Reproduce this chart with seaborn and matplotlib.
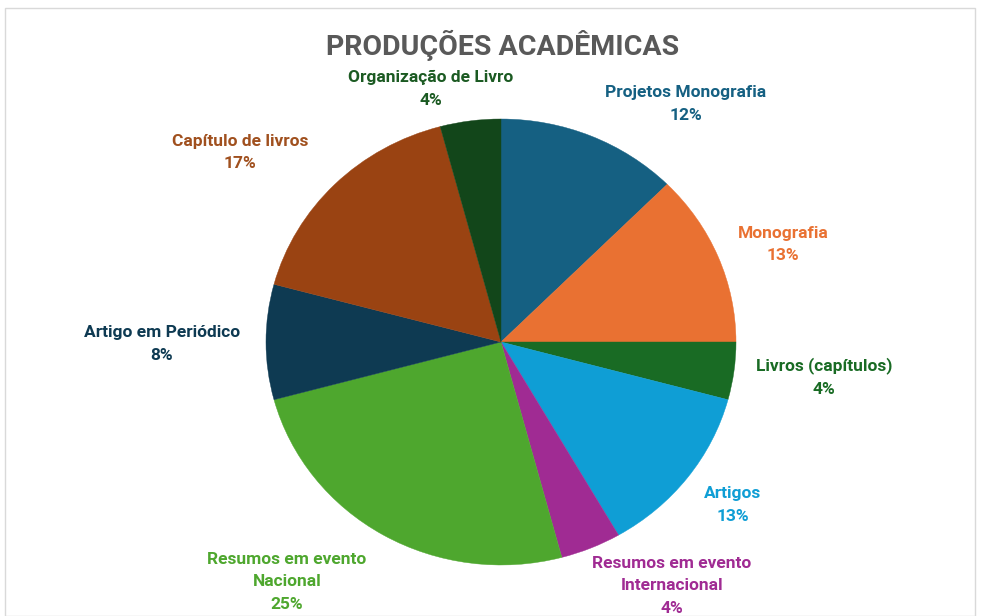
import matplotlib
import matplotlib.pyplot as plt
import seaborn as sns
from matplotlib.patches import Rectangle

matplotlib.use("Agg")

TITLE = "PRODUÇÕES ACADÊMICAS"

# slices, clockwise from 12 o'clock
CATEGORIES = [
    "Projetos Monografia",
    "Monografia",
    "Livros (capítulos)",
    "Artigos",
    "Resumos em evento\nInternacional",
    "Resumos em evento\nNacional",
    "Artigo em Periódico",
    "Capítulo de livros",
    "Organização de Livro",
]
COUNTS = [3, 3, 1, 3, 1, 6, 2, 4, 1]
PCT_LABELS = [12, 13, 4, 13, 4, 25, 8, 17, 4]

SLICE_COLORS = [
    "#156082", "#E97132", "#196B24", "#0F9ED5", "#A02B93",
    "#4EA72E", "#0E3A52", "#9A4312", "#12461A",
]
TEXT_COLORS = [
    "#156082", "#E97132", "#196B24", "#0F9ED5", "#A02B93",
    "#4EA72E", "#0E3A52", "#A0501E", "#1B5A22",
]
# label centres in the pie's own (-1..1) frame
LABEL_POS = [
    (0.787, 1.067), (1.20, 0.439), (1.374, -0.157), (0.987, -0.731),
    (0.728, -1.094), (-0.911, -1.076), (-1.443, -0.009), (-1.111, 0.848),
    (-0.298, 1.135),
]

W, H = 981, 616

sns.set_theme(style="white")
plt.rcParams["font.family"] = ["Roboto", "DejaVu Sans"]

fig = plt.figure(figsize=(W / 100, H / 100), dpi=100, facecolor="white")
fig.patches.append(
    Rectangle((5 / W, 0), 970 / W, 1 - 8 / H, transform=fig.transFigure,
              fill=False, edgecolor="#D9D9D9", linewidth=1.0)
)

# pie box in pixels: x 266..736, y 119..565 (slightly wider than tall)
ax = fig.add_axes([266 / W, (H - 565) / H, 470 / W, 446 / H])
palette = sns.color_palette(SLICE_COLORS)
wedges, _ = ax.pie(
    COUNTS,
    colors=palette,
    startangle=90,
    counterclock=False,
    radius=1.0,
)
for w in wedges:
    w.set_edgecolor(w.get_facecolor())
    w.set_linewidth(0.3)
ax.set_aspect("auto")
ax.set_xlim(-1, 1)
ax.set_ylim(-1, 1)
ax.axis("off")

for name, pct, color, (x, y) in zip(CATEGORIES, PCT_LABELS, TEXT_COLORS, LABEL_POS):
    ax.text(x, y, f"{name}\n{pct}%", ha="center", va="center", fontsize=12.5,
            fontweight="bold", color=color, linespacing=1.6, clip_on=False)

fig.text(503 / W, 1 - 45 / H, TITLE, ha="center", va="center", fontsize=20.5,
         fontweight="bold", color="#595959")

fig.savefig("out.png", dpi=100, facecolor="white")
plt.close(fig)
